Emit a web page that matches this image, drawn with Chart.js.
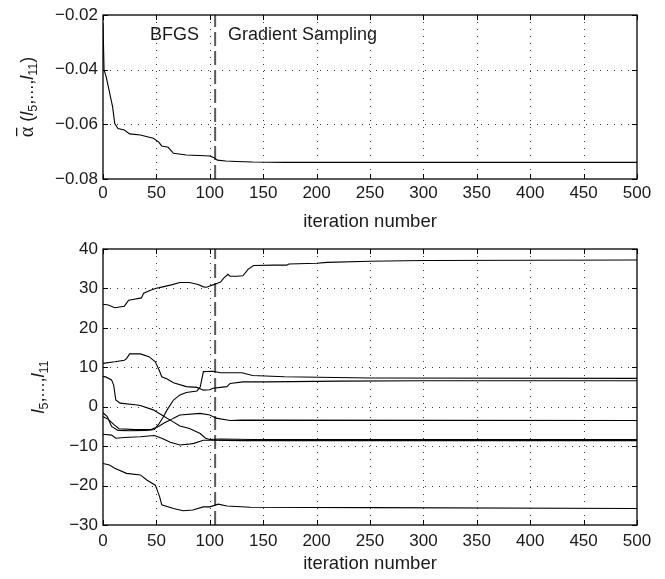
<!DOCTYPE html>
<html>
<head>
<meta charset="utf-8">
<script src="https://cdn.jsdelivr.net/npm/chart.js@4.4.1/dist/chart.umd.min.js"></script>
<style>
  body { margin: 0; background: #fff; }
  #wrap { position: relative; width: 665px; height: 579px; }
  canvas { position: absolute; left: 0; }
</style>
</head>
<body>
<div id="wrap">
  <canvas id="alphaChart" width="665" height="235" style="top:0"></canvas>
  <canvas id="lChart" width="665" height="344" style="top:235px"></canvas>
</div>
<script>
// ticks
const iterTicks = [0, 50, 100, 150, 200, 250, 300, 350, 400, 450, 500];
const iterTickLabels = ['0', '50', '100', '150', '200', '250', '300', '350', '400', '450', '500'];
const alphaTicks = [-0.08, -0.06, -0.04, -0.02];
const alphaTickLabels = ['\u22120.08', '\u22120.06', '\u22120.04', '\u22120.02'];
const lTicks = [-30, -20, -10, 0, 10, 20, 30, 40];
const lTickLabels = ['\u221230', '\u221220', '\u221210', '0', '10', '20', '30', '40'];

// switch from BFGS to gradient sampling
const switchIter = 105;

// top panel: mean alpha
const alphaIter = [0, 1, 3, 6, 9, 11, 14, 20, 25, 35, 47, 52, 55, 61, 66, 78, 90, 100, 104, 107, 115, 125, 140, 170, 250, 500];
const alphaVal = [-0.023, -0.0401, -0.0426, -0.0481, -0.0536, -0.0597, -0.0615, -0.0621, -0.0635, -0.0639, -0.0651, -0.0664, -0.0679, -0.0684, -0.0706, -0.0712, -0.0714, -0.0716, -0.0722, -0.0731, -0.0734, -0.0736, -0.0738, -0.0739, -0.0739, -0.0739];

// bottom panel: l5 ... l11
const curve1Iter = [0, 5, 11, 20, 24, 28, 36, 38, 44, 49, 56, 64, 72, 81, 89, 94, 97, 100, 103, 106, 110, 113, 117, 119, 125, 131, 136, 141, 160, 172, 174, 200, 210, 250, 300, 500];
const curve1Val = [26.0, 25.8, 25.1, 25.5, 27.0, 27.2, 27.6, 28.8, 29.5, 30.0, 30.4, 30.9, 31.5, 31.5, 31.0, 30.4, 30.3, 30.6, 30.9, 31.2, 31.6, 32.6, 33.6, 33.1, 33.1, 33.2, 34.9, 35.8, 35.9, 35.9, 36.2, 36.4, 36.6, 36.9, 37.1, 37.2];

const curve2Iter = [0, 11, 20, 22, 25, 35, 43, 49, 53, 55, 60, 66, 78, 88, 94, 100, 103, 110, 116, 119, 131, 153, 222, 300, 500];
const curve2Val = [11.0, 11.4, 11.8, 12.2, 13.4, 13.4, 12.7, 11.4, 9.0, 7.6, 7.0, 6.1, 5.1, 4.9, 4.2, 4.3, 4.7, 4.9, 5.1, 5.9, 6.3, 6.3, 6.5, 6.6, 6.6];

const curve3Iter = [0, 3, 8, 10, 11, 12, 16, 30, 35, 47, 55, 63, 72, 81, 91, 96, 100, 110, 140, 500];
const curve3Val = [7.7, 7.5, 6.8, 5.5, 3.5, 1.7, 0.9, 0.5, 0.3, -0.8, -2.1, -3.4, -4.9, -5.5, -6.8, -8.0, -8.3, -8.2, -8.3, -8.3];

const curve4Iter = [0, 4, 8, 14, 25, 40, 48, 52, 56, 60, 66, 72, 78, 88, 91, 94, 103, 110, 130, 140, 170, 250, 500];
const curve4Val = [-1.5, -2.5, -5.0, -6.0, -6.1, -6.0, -5.8, -4.5, -2.8, -0.8, 1.7, 3.0, 3.6, 4.0, 5.0, 8.9, 9.0, 8.6, 8.6, 7.9, 7.6, 7.3, 7.2];

const curve5Iter = [0, 5, 10, 15, 30, 45, 52, 58, 63, 66, 72, 91, 100, 106, 119, 130, 500];
const curve5Val = [-2.5, -3.2, -4.5, -5.6, -5.8, -5.8, -5.0, -4.0, -3.4, -2.9, -2.1, -1.7, -2.1, -2.9, -3.5, -3.4, -3.5];

const curve6Iter = [0, 8, 12, 20, 35, 48, 55, 63, 72, 80, 85, 94, 100, 130, 500];
const curve6Val = [-7.0, -7.2, -8.0, -7.8, -7.6, -7.3, -8.0, -9.0, -9.7, -9.5, -9.3, -8.5, -8.5, -8.6, -8.6];

const curve7Iter = [0, 6, 11, 22, 35, 41, 49, 53, 55, 66, 75, 84, 94, 100, 108, 116, 138, 250, 500];
const curve7Val = [-14.4, -14.8, -15.6, -16.9, -17.3, -18.6, -19.9, -22.8, -24.9, -25.8, -26.4, -26.2, -25.4, -25.4, -24.7, -25.2, -25.5, -25.6, -25.8];

const FONT = "'Liberation Sans', Arial, sans-serif";
const TEXT = '#1a1a1a';

function toPoints(xs, ys) {
    return xs.map((x, i) => ({ x: x, y: ys[i] }));
}

function curve(xs, ys) {
    return {
        data: toPoints(xs, ys),
        showLine: true,
        borderColor: '#000',
        borderWidth: 1.1,
        pointRadius: 0,
        tension: 0
    };
}

function switchLine(ticks) {
    return {
        data: [{ x: switchIter, y: ticks[0] }, { x: switchIter, y: ticks[ticks.length - 1] }],
        showLine: true,
        borderColor: '#5a5a5a',
        borderWidth: 2,
        borderDash: [14, 5],
        pointRadius: 0
    };
}

// matlab style box, dotted grid, inward ticks, labels
const matlabAxes = {
    id: 'matlabAxes',
    beforeDatasetsDraw(chart) {
        const { ctx, chartArea: a, scales: { x, y } } = chart;
        ctx.save();
        ctx.strokeStyle = '#3a3a3a';
        ctx.lineWidth = 1;
        ctx.setLineDash([1, 6]);
        x.ticks.forEach(t => {
            const px = Math.round(x.getPixelForValue(t.value)) + 0.5;
            if (px <= a.left + 2 || px >= a.right - 2) return;
            ctx.beginPath(); ctx.moveTo(px, a.top); ctx.lineTo(px, a.bottom); ctx.stroke();
        });
        y.ticks.forEach(t => {
            const py = Math.round(y.getPixelForValue(t.value)) + 0.5;
            if (py <= a.top + 2 || py >= a.bottom - 2) return;
            ctx.beginPath(); ctx.moveTo(a.left, py); ctx.lineTo(a.right, py); ctx.stroke();
        });
        ctx.restore();
    },
    afterDatasetsDraw(chart, args, opts) {
        const { ctx, chartArea: a, scales: { x, y } } = chart;
        ctx.save();
        ctx.strokeStyle = '#000';
        ctx.lineWidth = 1.3;
        ctx.setLineDash([]);
        ctx.strokeRect(a.left, a.top, a.right - a.left, a.bottom - a.top);
        const tl = 5;
        ctx.lineWidth = 1;
        x.ticks.forEach(t => {
            const px = Math.round(x.getPixelForValue(t.value)) + 0.5;
            ctx.beginPath();
            ctx.moveTo(px, a.bottom); ctx.lineTo(px, a.bottom - tl);
            ctx.moveTo(px, a.top); ctx.lineTo(px, a.top + tl);
            ctx.stroke();
        });
        y.ticks.forEach(t => {
            const py = Math.round(y.getPixelForValue(t.value)) + 0.5;
            ctx.beginPath();
            ctx.moveTo(a.left, py); ctx.lineTo(a.left + tl, py);
            ctx.moveTo(a.right, py); ctx.lineTo(a.right - tl, py);
            ctx.stroke();
        });

        // text notes inside the plot
        ctx.fillStyle = TEXT;
        ctx.font = '18px ' + FONT;
        ctx.textBaseline = 'middle';
        (opts.notes || []).forEach(n => {
            ctx.textAlign = n.align;
            ctx.fillText(n.text, x.getPixelForValue(n.x), y.getPixelForValue(n.y));
        });

        // rotated y label made of pieces
        if (opts.label) {
            const parts = opts.label;
            const cy = (a.top + a.bottom) / 2;
            let total = 0;
            parts.forEach(p => { ctx.font = p.font; p.w = ctx.measureText(p.t).width; total += p.w; });
            ctx.translate(opts.labelX, cy);
            ctx.rotate(-Math.PI / 2);
            ctx.textAlign = 'left';
            ctx.textBaseline = 'alphabetic';
            let cx = -total / 2;
            parts.forEach(p => {
                ctx.font = p.font;
                ctx.fillText(p.t, cx, p.dy || 0);
                if (p.bar) {
                    ctx.fillRect(cx + 1, -17, p.w - 2, 1.3);
                }
                cx += p.w;
            });
        }
        ctx.restore();
    }
};

function labelParts(withAlpha) {
    const main = '18px ' + FONT;
    const ital = 'italic 18px ' + FONT;
    const sub = '12.5px ' + FONT;
    const parts = [];
    if (withAlpha) {
        parts.push({ t: '\u03b1', font: '20px "Liberation Serif", serif', bar: true });
        parts.push({ t: ' (', font: main });
    }
    parts.push({ t: 'l', font: ital });
    parts.push({ t: '5', font: sub, dy: 4 });
    parts.push({ t: ',...,', font: main });
    parts.push({ t: 'l', font: ital });
    parts.push({ t: '11', font: sub, dy: 4 });
    if (withAlpha) parts.push({ t: ')', font: main });
    return parts;
}

function makeChart(id, yTicks, yTickLabels, datasets, cfg) {
    const canvas = document.getElementById(id);
    const H = canvas.height;
    return new Chart(canvas.getContext('2d'), {
        type: 'scatter',
        data: { datasets: datasets },
        options: {
            responsive: false,
            animation: false,
            devicePixelRatio: 1,
            events: [],
            layout: { padding: { top: cfg.top, right: 28, left: 0, bottom: 0 } },
            scales: {
                x: {
                    type: 'linear',
                    min: 0,
                    max: 500,
                    afterBuildTicks: s => { s.ticks = iterTicks.map(v => ({ value: v })); },
                    afterFit: s => { s.height = H - cfg.plotBottom; s.paddingLeft = 0; s.paddingRight = 0; },
                    ticks: {
                        autoSkip: false,
                        maxRotation: 0,
                        padding: cfg.xTickPad,
                        color: TEXT,
                        font: { family: FONT, size: 17 },
                        callback: (v, i) => iterTickLabels[i]
                    },
                    grid: { display: false, drawTicks: false },
                    border: { display: false },
                    title: {
                        display: true,
                        text: 'iteration number',
                        color: TEXT,
                        font: { family: FONT, size: 18.5 },
                        padding: { top: 0, bottom: cfg.titlePad }
                    }
                },
                y: {
                    type: 'linear',
                    min: yTicks[0],
                    max: yTicks[yTicks.length - 1],
                    afterBuildTicks: s => { s.ticks = yTicks.map(v => ({ value: v })); },
                    afterFit: s => { s.width = 103; s.paddingTop = 0; s.paddingBottom = 0; },
                    ticks: {
                        padding: 5,
                        color: TEXT,
                        font: { family: FONT, size: 17 },
                        callback: (v, i) => yTickLabels[i]
                    },
                    grid: { display: false, drawTicks: false },
                    border: { display: false }
                }
            },
            plugins: {
                legend: { display: false },
                tooltip: { enabled: false },
                matlabAxes: { label: cfg.label, labelX: cfg.labelX, notes: cfg.notes || [] }
            }
        },
        plugins: [matlabAxes]
    });
}

makeChart('alphaChart', alphaTicks, alphaTickLabels,
    [curve(alphaIter, alphaVal), switchLine(alphaTicks)],
    {
        top: 15, plotBottom: 179, xTickPad: 4, titlePad: 2,
        label: labelParts(true), labelX: 33,
        notes: [
            { text: 'BFGS', x: 90, y: -0.0273, align: 'right' },
            { text: 'Gradient Sampling', x: 117, y: -0.0273, align: 'left' }
        ]
    });

makeChart('lChart', lTicks, lTickLabels,
    [
        curve(curve1Iter, curve1Val),
        curve(curve2Iter, curve2Val),
        curve(curve3Iter, curve3Val),
        curve(curve4Iter, curve4Val),
        curve(curve5Iter, curve5Val),
        curve(curve6Iter, curve6Val),
        curve(curve7Iter, curve7Val),
        switchLine(lTicks)
    ],
    {
        top: 14, plotBottom: 290, xTickPad: 6, titlePad: 4,
        label: labelParts(false), labelX: 44
    });
</script>
</body>
</html>
